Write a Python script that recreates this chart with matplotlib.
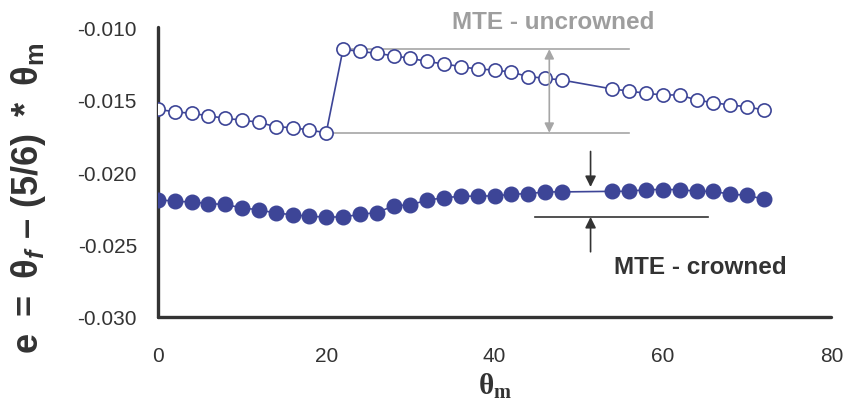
import matplotlib
matplotlib.use("Agg")
import matplotlib.pyplot as plt
from matplotlib.ticker import FixedLocator, FixedFormatter

plt.rcParams['font.family'] = ['Liberation Sans', 'DejaVu Sans']
plt.rcParams['axes.unicode_minus'] = False
plt.rcParams['mathtext.fontset'] = 'custom'
plt.rcParams['mathtext.bf'] = 'Liberation Sans:bold'
plt.rcParams['mathtext.it'] = 'Liberation Sans:bold:italic'
plt.rcParams['mathtext.rm'] = 'Liberation Sans:bold'
plt.rcParams['mathtext.sf'] = 'Liberation Serif:bold'

# ---- data ----
theta_m = [0, 2, 4, 6, 8, 10, 12, 14, 16, 18, 20, 22, 24, 26, 28, 30, 32, 34, 36,
           38, 40, 42, 44, 46, 48, 54, 56, 58, 60, 62, 64, 66, 68, 70, 72]
uncrowned = [-0.01567, -0.01584, -0.01595, -0.01611, -0.01630, -0.01641, -0.01657,
             -0.01687, -0.01694, -0.01710, -0.01729, -0.01152, -0.01168, -0.01180,
             -0.01198, -0.01215, -0.01237, -0.01254, -0.01272, -0.01290, -0.01295,
             -0.01311, -0.01341, -0.01353, -0.01365, -0.01427, -0.01441, -0.01457,
             -0.01468, -0.01468, -0.01503, -0.01521, -0.01538, -0.01549, -0.01572]
crowned = [-0.02190, -0.02202, -0.02206, -0.02218, -0.02223, -0.02248, -0.02260,
           -0.02283, -0.02294, -0.02306, -0.02310, -0.02310, -0.02292, -0.02280,
           -0.02234, -0.02225, -0.02195, -0.02176, -0.02168, -0.02165, -0.02165,
           -0.02153, -0.02149, -0.02137, -0.02137, -0.02133, -0.02133, -0.02121,
           -0.02121, -0.02121, -0.02133, -0.02133, -0.02153, -0.02160, -0.02188]
x_ticks = [0, 20, 40, 60, 80]
y_ticks = [-0.030, -0.025, -0.020, -0.015, -0.010]
y_tick_labels = ['-0.030', '-0.025', '-0.020', '-0.015', '-0.010']

series_color = '#3d4597'
gray = '#a6a6a6'
dark = '#333333'

fig = plt.figure(figsize=(8.44, 4.02), dpi=100)
ax = fig.add_axes([0.187, 0.209, 0.798, 0.721])

ax.plot(theta_m, uncrowned, color=series_color, lw=1.2, marker='o', ms=9.5,
        mfc='white', mec=series_color, mew=1.2, zorder=3)
ax.plot(theta_m, crowned, color=series_color, lw=1.2, marker='o', ms=10.5,
        mfc=series_color, mec=series_color, mew=1.0, zorder=3)

ax.set_xlim(0, 80)
ax.set_ylim(-0.030, -0.010)
ax.xaxis.set_major_locator(FixedLocator(x_ticks))
ax.yaxis.set_major_locator(FixedLocator(y_ticks))
ax.yaxis.set_major_formatter(FixedFormatter(y_tick_labels))
ax.tick_params(axis='both', length=0, labelsize=15, labelcolor=dark)
ax.tick_params(axis='y', pad=15)
ax.tick_params(axis='x', pad=21)

for s in ['top', 'right']:
    ax.spines[s].set_visible(False)
for s in ['left', 'bottom']:
    ax.spines[s].set_color(dark)
    ax.spines[s].set_linewidth(2.4)
    ax.spines[s].set_capstyle('round')

# ---- annotations: uncrowned ----
u_max = max(uncrowned)
u_min = min(uncrowned)
ax.plot([22, 56], [u_max, u_max], color=gray, lw=1.2, zorder=2, clip_on=False)
ax.plot([20, 56], [u_min, u_min], color=gray, lw=1.2, zorder=2, clip_on=False)
ax.annotate('', xy=(46.5, u_max), xytext=(46.5, u_min),
            arrowprops=dict(arrowstyle='<|-|>', color=gray, lw=1.2,
                            mutation_scale=14, shrinkA=0, shrinkB=0))
ax.text(47.0, -0.00959, 'MTE - uncrowned', color='#9e9e9e', fontsize=17.5,
        fontweight='bold', ha='center', va='center', clip_on=False)

# ---- annotations: crowned ----
c_min = min(crowned)
ax.plot([44.8, 65.3], [c_min, c_min], color=dark, lw=1.2, zorder=2)
ax.annotate('', xy=(51.4, -0.02103), xytext=(51.4, -0.01858),
            arrowprops=dict(arrowstyle='-|>', color=dark, lw=1.2,
                            mutation_scale=16, shrinkA=0, shrinkB=0))
ax.annotate('', xy=(51.4, c_min), xytext=(51.4, -0.0255),
            arrowprops=dict(arrowstyle='-|>', color=dark, lw=1.2,
                            mutation_scale=16, shrinkA=0, shrinkB=0))
ax.text(64.4, -0.02655, 'MTE - crowned', color=dark, fontsize=17.5,
        fontweight='bold', ha='center', va='center')

# ---- axis labels ----
ax.set_ylabel(r'$\mathbf{e\ =\ θ_{\mathit{f}}\ –\ (5/6)\ *\ θ_m}$', fontsize=26, color=dark)
ax.yaxis.set_label_coords(-0.163, 0.414)
ax.set_xlabel(r'$\mathsf{θ_m}$', fontsize=21, color=dark)
ax.xaxis.set_label_coords(0.5, -0.185)

fig.savefig('out.png', dpi=100)
